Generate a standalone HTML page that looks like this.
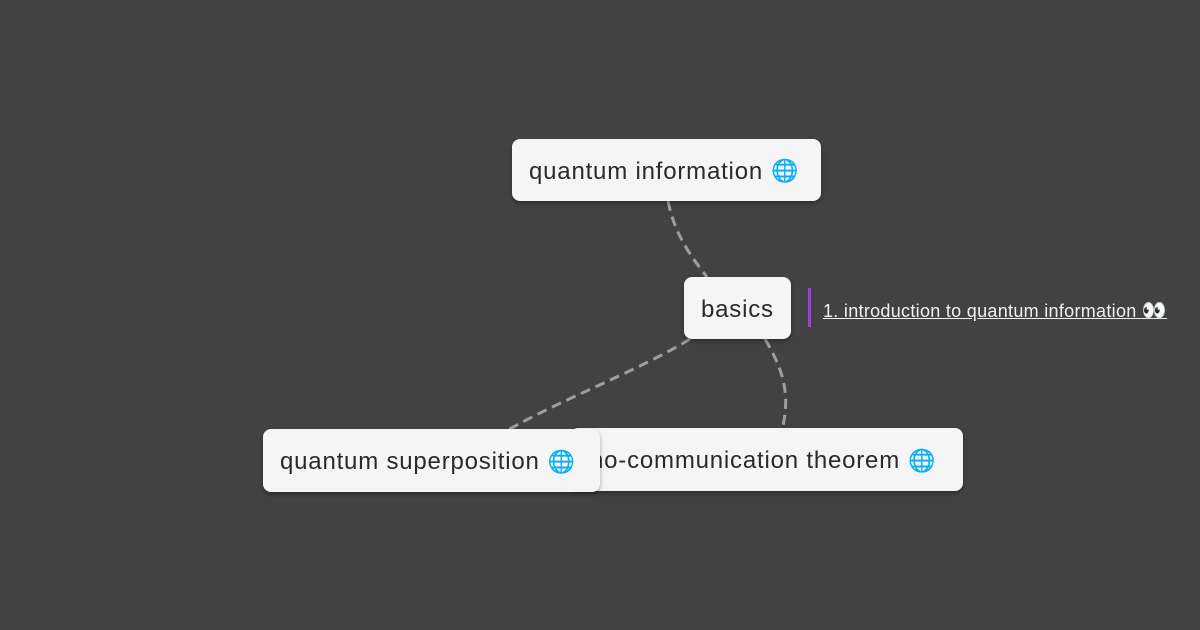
<!DOCTYPE html>
<html><head><meta charset="utf-8"><style>
html,body{margin:0;padding:0}
body{width:1200px;height:630px;background:#424242;position:relative;overflow:hidden;font-family:"Liberation Sans",sans-serif}
.n{position:absolute;background:#f5f5f5;border-radius:8px;box-shadow:0 2px 4px rgba(0,0,0,.35);color:#2a2a2a;font-size:24px;letter-spacing:0.8px;display:flex;align-items:center;white-space:nowrap;box-sizing:border-box;padding-left:17px;padding-top:3px}
.g{font-size:22px;margin-left:8px;font-family:"DejaVu Sans",sans-serif;color:#3aa0d8;letter-spacing:0}
</style></head><body>
<svg width="1200" height="630" style="position:absolute;left:0;top:0">
<g fill="none" stroke="#9e9e9e" stroke-width="3" stroke-dasharray="10,6">
<path d="M668 201 C675 235 690 255 707 277"/>
<path d="M690 339 C640 370 560 400 508 430"/>
<path d="M765 339 C780 365 792 390 782 430"/>
</g>
<rect x="808" y="288" width="3" height="39" fill="#9c3fe0"/>
</svg>
<div class="n" style="left:512px;top:139px;width:309px;height:62px">quantum information<span class="g">🌐</span></div>
<div class="n" style="left:684px;top:277px;width:107px;height:62px">basics</div>
<div class="n" style="left:570px;top:428px;width:393px;height:63px;padding-left:20px">no-communication theorem<span class="g">🌐</span></div>
<div class="n" style="left:263px;top:429px;width:337px;height:63px">quantum superposition<span class="g">🌐</span></div>
<div style="position:absolute;left:823px;top:298px;color:#f0f0f0;font-size:18px;letter-spacing:0.3px;text-decoration:underline;white-space:nowrap">1. introduction to quantum information <span style="text-decoration:none;font-family:'DejaVu Sans',sans-serif;font-size:20px">👀</span></div>
</body></html>
